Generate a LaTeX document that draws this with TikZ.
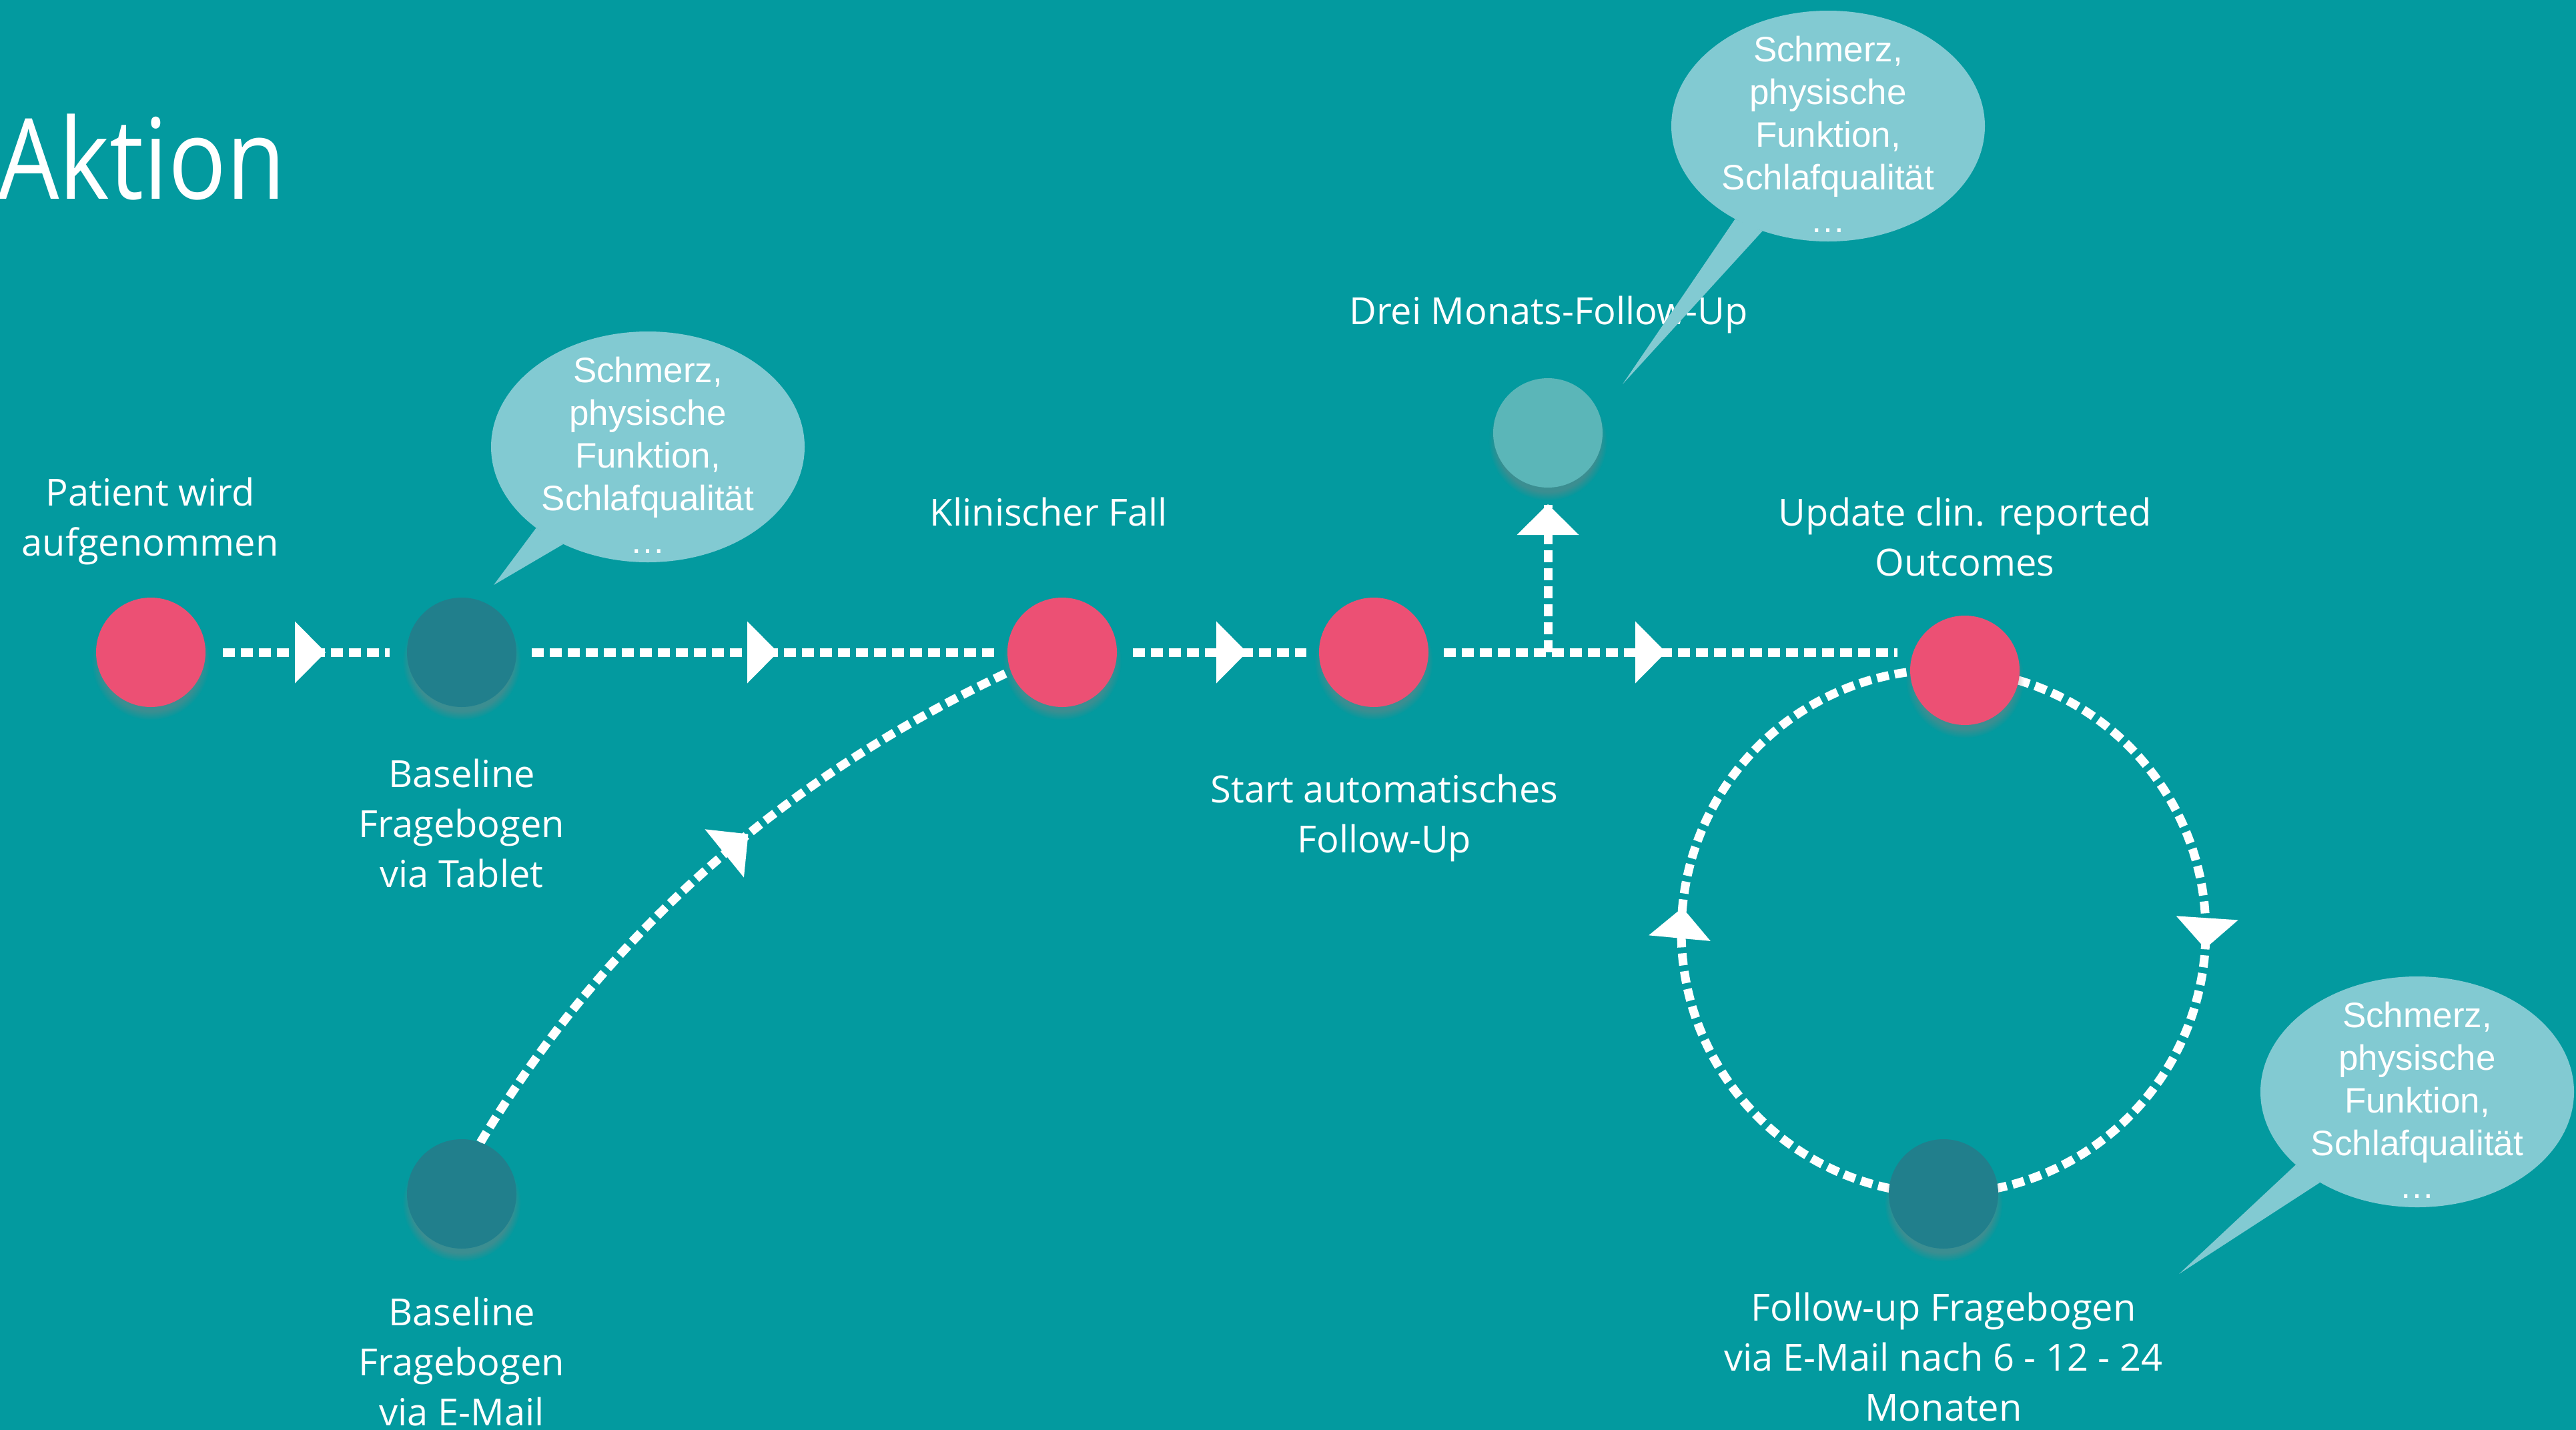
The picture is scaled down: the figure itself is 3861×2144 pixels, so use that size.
\documentclass[tikz,border=0pt]{standalone}
\usepackage{fontspec}
\setmainfont{Open Sans}
\newfontfamily\bubblefont{Liberation Sans}
\newfontfamily\titlefont{Open Sans}[FakeStretch=0.86]
\usetikzlibrary{arrows.meta,decorations.markings,shadows,calc,shapes.geometric}
\definecolor{bgteal}{RGB}{3,154,159}
\definecolor{pinkdot}{RGB}{236,80,116}
\definecolor{darkdot}{RGB}{33,127,140}
\definecolor{lightdot}{RGB}{91,182,184}
\definecolor{bubblecol}{RGB}{130,202,210}
\pgfdeclarelayer{backdrop}
\pgfdeclarelayer{lines}
\pgfsetlayers{backdrop,lines,main}
\begin{document}
\begin{tikzpicture}[x=1pt,y=-1pt,
  dot/.style={circle, minimum size=164pt, inner sep=0pt, outer sep=0pt,
    circular drop shadow={shadow xshift=0pt, shadow yshift=-12pt, shadow scale=1.08, opacity=0.45}},
  flow/.style={draw=white, line width=13pt, dash pattern=on 18pt off 9pt},
  arrowat/.style={postaction={decorate}, decoration={markings,
    mark=at position #1 with {\arrow{Triangle[length=46pt,width=93pt,line width=0pt]}}}},
  lbl/.style={text=white, align=center, anchor=base, inner sep=0pt,
    font=\fontsize{56}{75}\selectfont},
  bubble/.style={ellipse, fill=bubblecol, minimum width=470pt, minimum height=346pt, inner sep=0pt},
  btxt/.style={text=white, align=center, anchor=base, inner sep=0pt,
    font=\bubblefont\fontsize{53}{64}\selectfont}
]
\useasboundingbox (0,0) rectangle (3861,2144);
\begin{pgfonlayer}{backdrop}
  \fill[bgteal] (0,0) rectangle (3861,2144);
\end{pgfonlayer}

% title
\node[anchor=base west, inner sep=0pt, text=white, font=\titlefont\fontsize{168}{200}\selectfont] (title) at (-3,298) {Aktion};

% dots
\node[dot, fill=pinkdot]  (N1) at (226,978) {};
\node[dot, fill=darkdot]  (N2) at (692,978) {};
\node[dot, fill=pinkdot]  (N3) at (1592,978) {};
\node[dot, fill=pinkdot]  (N4) at (2059,978) {};
\node[dot, fill=lightdot] (N5) at (2320,649) {};
\node[dot, fill=pinkdot]  (N6) at (2945,1005) {};
\node[dot, fill=darkdot]  (N7) at (2913,1790) {};
\node[dot, fill=darkdot]  (N8) at (692,1790) {};

% connectors
\begin{pgfonlayer}{lines}
  \draw[flow, shorten <=26pt, shorten >=26pt, arrowat=180pt] (N1) -- (N2);
  \draw[flow, shorten <=23pt, shorten >=19pt, arrowat=392pt] (N2) -- (N3);
  \draw[flow, shorten <=24pt, shorten >=19pt, arrowat=195pt] (N3) -- (N4);
  \draw[flow, shorten <=23pt, shorten >=19pt, arrowat=356pt] (N4) -- (N6.west |- N4);
  \draw[flow, shorten >=26pt, arrowat=222pt] (N5 |- N4) -- (N5);
  \draw[flow, arrowat=0.57] (N8.70) .. controls (910,1396) and (1181,1163) .. (N3.200);
  \draw[flow, arrowat=0.508] (N6.center) arc[start angle=-85.33, end angle=90, radius=393];
  \draw[flow, arrowat=0.516] (N7.center) arc[start angle=90, end angle=274.67, radius=393];
\end{pgfonlayer}

% labels (anchored at the baseline of their last line)
\node[lbl] (L1) at (225,833) {Patient wird\\aufgenommen};
\node[lbl] (L2) at (692,1330) {Baseline\\Fragebogen\\via Tablet};
\node[lbl] (L3) at (1572,788) {Klinischer Fall};
\node[lbl] (L4) at (2075,1278) {Start automatisches\\Follow-Up};
\node[lbl] (L5) at (2321,486) {Drei Monats-Follow-Up};
\node[lbl] (L6) at (2945,863) {Update clin. reported\\Outcomes};
\node[lbl] (L7) at (2913,2130) {Follow-up Fragebogen\\via E-Mail nach 6 - 12 - 24\\Monaten};
\node[lbl] (L8) at (692,2137) {Baseline\\Fragebogen\\via E-Mail};

% speech bubbles
\node[bubble] (B1) at (971,670) {};
\coordinate (T1) at (740,877);
\fill[bubblecol] (T1) -- (B1.216) -- (B1.229) -- cycle;
\node[btxt] (B1t) at ($(B1.center)+(0,159)$) {Schmerz,\\physische\\Funktion,\\Schlafqualität\\…};

\node[bubble] (B2) at (2740,189) {};
\coordinate (T2) at (2432,576);
\fill[bubblecol] (T2) -- (B2.225) -- (B2.238) -- cycle;
\node[btxt] (B2t) at ($(B2.center)+(0,159)$) {Schmerz,\\physische\\Funktion,\\Schlafqualität\\…};

\node[bubble] (B3) at (3623,1637) {};
\coordinate (T3) at (3266,1910);
\fill[bubblecol] (T3) -- (B3.211.7) -- (B3.223.8) -- cycle;
\node[btxt] (B3t) at ($(B3.center)+(0,159)$) {Schmerz,\\physische\\Funktion,\\Schlafqualität\\…};
\end{tikzpicture}
\end{document}
